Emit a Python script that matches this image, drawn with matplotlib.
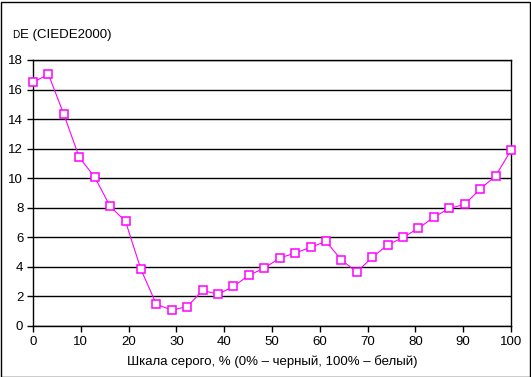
import numpy as np
import matplotlib
matplotlib.use('Agg')
import matplotlib.pyplot as plt
from matplotlib.patches import Rectangle

plt.rcParams['font.family'] = ['Liberation Sans', 'DejaVu Sans']

# Gray level (%) and dE values
gray = np.arange(32) * 100 / 31
de = [16.49, 17.03, 14.32, 11.41, 10.08, 8.10, 7.08, 3.83, 1.47, 1.08,
      1.31, 2.41, 2.14, 2.68, 3.43, 3.92, 4.60, 4.94, 5.32, 5.73,
      4.47, 3.65, 4.65, 5.48, 6.00, 6.61, 7.37, 7.96, 8.23, 9.27,
      10.15, 11.89]

W, H = 531, 377
fig = plt.figure(figsize=(W / 100, H / 100), dpi=100)
ax = fig.add_axes([33 / W, (H - 326) / H, (511 - 33) / W, (326 - 60) / H])

ax.plot(gray, de, color='#ff00ff', lw=0.8, marker='s', ms=6.2,
        mfc='white', mec='#ff00ff', mew=1.1, zorder=3, clip_on=False)

ax.set_xlim(0, 100)
ax.set_ylim(0, 18)
ax.set_xticks(range(0, 101, 10))
ax.set_yticks(range(0, 19, 2))
ax.yaxis.grid(True, color='black', lw=1)
ax.set_axisbelow(True)
for s in ax.spines.values():
    s.set_color('black')
    s.set_linewidth(1)
ax.tick_params(labelsize=9.5, length=4, width=1, color='black', pad=3)

ax.set_xlabel('Шкала серого, % (0% – черный, 100% – белый)',
              fontsize=9.5, labelpad=5)

# axis title with small capital D
fig.text(12 / W, 1 - 38 / H, 'D', fontsize=7.2, ha='left', va='baseline')
fig.text(19.5 / W, 1 - 38 / H, 'E (CIEDE2000)', fontsize=9.5, ha='left', va='baseline')

fig.patches.append(Rectangle((0.5 / W, 0.5 / H), (W - 2) / W, (H - 2) / H,
                             transform=fig.transFigure, fill=False,
                             edgecolor='black', lw=1))

fig.savefig('out.png', dpi=100)
